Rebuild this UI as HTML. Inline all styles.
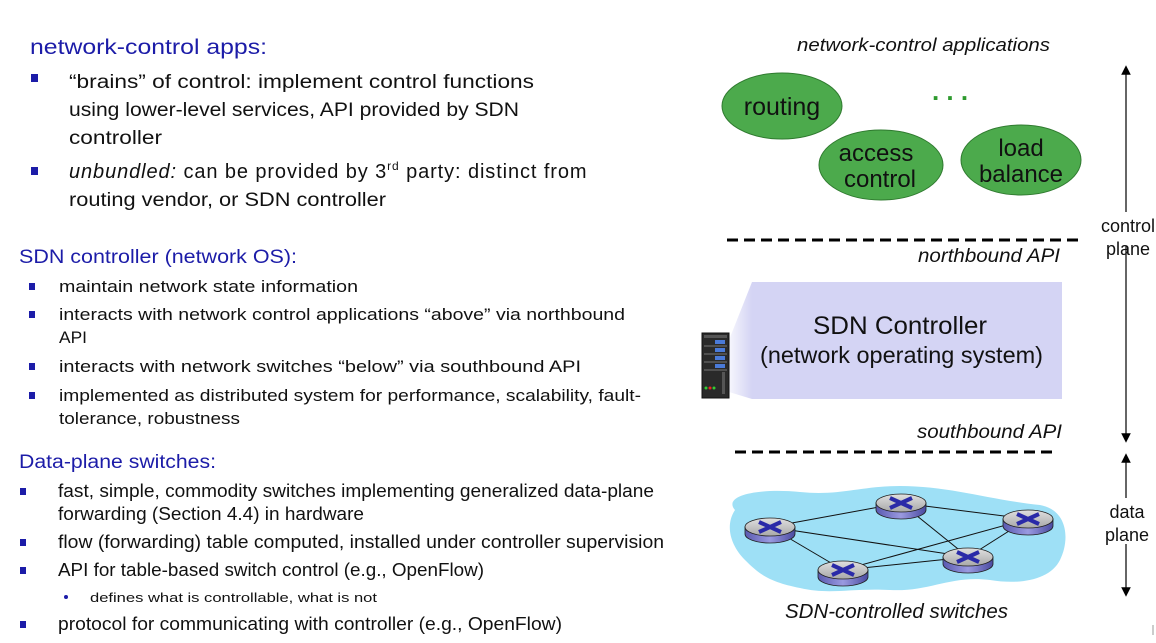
<!DOCTYPE html>
<html><head><meta charset="utf-8"><style>
html,body{margin:0;padding:0;background:#fff;width:1156px;height:643px;overflow:hidden}
svg{display:block}
text{font-family:"Liberation Sans",sans-serif}
.h{fill:#1c1ca8}
.t{fill:#111}
</style></head><body>
<svg width="1156" height="643" viewBox="0 0 1156 643" xmlns="http://www.w3.org/2000/svg">
<defs>
<linearGradient id="fade" x1="0" x2="1" y1="0" y2="0">
<stop offset="0" stop-color="#d4d4f4" stop-opacity="0.2"/>
<stop offset="1" stop-color="#d4d4f4" stop-opacity="1"/>
</linearGradient>
<linearGradient id="rtop" x1="0" x2="0" y1="0" y2="1"><stop offset="0" stop-color="#e0e0e0"/><stop offset="1" stop-color="#a8a8a8"/></linearGradient>
<linearGradient id="rside" x1="0" x2="1" y1="0" y2="0"><stop offset="0" stop-color="#5a5ab0"/><stop offset="0.5" stop-color="#9a9ae0"/><stop offset="1" stop-color="#4a4aa0"/></linearGradient>
<marker id="ah" markerWidth="8" markerHeight="8" refX="4" refY="4" orient="auto"><path d="M0,0 L8,4 L0,8 z" fill="#000"/></marker>
<symbol id="router" viewBox="-27 -12 54 26" overflow="visible">
<path d="M-25,0 v7 a25,9 0 0 0 50,0 v-7 z" fill="url(#rside)" stroke="#222" stroke-width="0.8"/>
<ellipse cx="0" cy="0" rx="25" ry="9" fill="url(#rtop)" stroke="#222" stroke-width="0.8"/>
<path d="M-11,-5 L11,5 M-11,5 L11,-5" stroke="#2a2aa8" stroke-width="4"/>
</symbol>
</defs>

<!-- LEFT TEXT -->
<text class="h" x="30" y="54" font-size="21" textLength="237" lengthAdjust="spacingAndGlyphs">network-control apps:</text>
<rect x="31" y="74" width="7" height="8" fill="#1c1ca8"/>
<text class="t" x="69" y="88" font-size="19" textLength="465" lengthAdjust="spacingAndGlyphs">“brains” of control:  implement control functions</text>
<text class="t" x="69" y="116" font-size="19" textLength="450" lengthAdjust="spacingAndGlyphs">using lower-level services, API provided by SDN</text>
<text class="t" x="69" y="144" font-size="19" textLength="93" lengthAdjust="spacingAndGlyphs">controller</text>
<rect x="31" y="167" width="7" height="8" fill="#1c1ca8"/>
<text class="t" x="69" y="178" font-size="20" letter-spacing="0.9"><tspan font-style="italic">unbundled:</tspan> can be provided by 3<tspan font-size="12" dy="-8">rd</tspan><tspan dy="8"> party: distinct from</tspan></text>
<text class="t" x="69" y="206" font-size="19" textLength="317" lengthAdjust="spacingAndGlyphs">routing vendor, or SDN controller</text>

<text class="h" x="19" y="263" font-size="19" textLength="278" lengthAdjust="spacingAndGlyphs">SDN controller (network OS):</text>
<rect x="29" y="283" width="6" height="7" fill="#1c1ca8"/>
<text class="t" x="59" y="292" font-size="17" textLength="299" lengthAdjust="spacingAndGlyphs">maintain network state information</text>
<rect x="29" y="311" width="6" height="7" fill="#1c1ca8"/>
<text class="t" x="59" y="320" font-size="17" textLength="566" lengthAdjust="spacingAndGlyphs">interacts with network control applications “above” via northbound</text>
<text class="t" x="59" y="343" font-size="17" textLength="28" lengthAdjust="spacingAndGlyphs">API</text>
<rect x="29" y="363" width="6" height="7" fill="#1c1ca8"/>
<text class="t" x="59" y="372" font-size="17" textLength="522" lengthAdjust="spacingAndGlyphs">interacts with network switches “below” via southbound API</text>
<rect x="29" y="392" width="6" height="7" fill="#1c1ca8"/>
<text class="t" x="59" y="401" font-size="17" textLength="582" lengthAdjust="spacingAndGlyphs">implemented as distributed system for performance, scalability, fault-</text>
<text class="t" x="59" y="424" font-size="17" textLength="181" lengthAdjust="spacingAndGlyphs">tolerance, robustness</text>

<text class="h" x="19" y="468" font-size="19" textLength="197" lengthAdjust="spacingAndGlyphs">Data-plane switches:</text>
<rect x="20" y="488" width="6" height="7" fill="#1c1ca8"/>
<text class="t" x="58" y="497" font-size="18" textLength="596" lengthAdjust="spacingAndGlyphs">fast, simple, commodity switches implementing generalized data-plane</text>
<text class="t" x="58" y="520" font-size="18" textLength="306" lengthAdjust="spacingAndGlyphs">forwarding (Section 4.4) in hardware</text>
<rect x="20" y="539" width="6" height="7" fill="#1c1ca8"/>
<text class="t" x="58" y="548" font-size="18" textLength="606" lengthAdjust="spacingAndGlyphs">flow (forwarding) table computed, installed under controller supervision</text>
<rect x="20" y="567" width="6" height="7" fill="#1c1ca8"/>
<text class="t" x="58" y="576" font-size="18" textLength="426" lengthAdjust="spacingAndGlyphs">API for table-based switch control (e.g., OpenFlow)</text>
<circle cx="66" cy="597" r="2" fill="#1c1ca8"/>
<text class="t" x="90" y="602" font-size="13" textLength="287" lengthAdjust="spacingAndGlyphs">defines what is controllable, what is not</text>
<rect x="20" y="621" width="6" height="7" fill="#1c1ca8"/>
<text class="t" x="58" y="630" font-size="18" textLength="504" lengthAdjust="spacingAndGlyphs">protocol for communicating with controller (e.g., OpenFlow)</text>

<!-- RIGHT DIAGRAM -->
<text x="797" y="51" font-size="18" font-style="italic" textLength="253" lengthAdjust="spacingAndGlyphs" fill="#111">network-control applications</text>
<ellipse cx="782" cy="106" rx="60" ry="33" fill="#4caa4c" stroke="#2f7a2f" stroke-width="1"/>
<text x="782" y="115" font-size="25" text-anchor="middle" fill="#111">routing</text>
<ellipse cx="881" cy="165" rx="62" ry="35" fill="#4caa4c" stroke="#2f7a2f" stroke-width="1"/>
<text x="876" y="161" font-size="24" text-anchor="middle" fill="#111">access</text>
<text x="880" y="187" font-size="24" text-anchor="middle" fill="#111">control</text>
<ellipse cx="1021" cy="160" rx="60" ry="35" fill="#4caa4c" stroke="#2f7a2f" stroke-width="1"/>
<text x="1021" y="156" font-size="24" text-anchor="middle" fill="#111">load</text>
<text x="1021" y="182" font-size="24" text-anchor="middle" fill="#111">balance</text>
<text x="950" y="100" font-size="26" font-weight="bold" text-anchor="middle" fill="#2e9a2e">. . .</text>

<line x1="727" y1="240" x2="1080" y2="240" stroke="#000" stroke-width="3" stroke-dasharray="11,6"/>
<text x="918" y="262" font-size="19" font-style="italic" textLength="142" lengthAdjust="spacingAndGlyphs" fill="#111">northbound API</text>

<polygon points="729,340 752,282 752,399 729,392" fill="url(#fade)"/>
<rect x="752" y="282" width="310" height="117" fill="#d4d4f4"/>
<text x="813" y="334" font-size="25" textLength="174" lengthAdjust="spacingAndGlyphs" fill="#111">SDN Controller</text>
<text x="760" y="363" font-size="23" textLength="283" lengthAdjust="spacingAndGlyphs" fill="#111">(network operating system)</text>

<!-- server -->
<rect x="702" y="333" width="27" height="65" fill="#2a2a2a" stroke="#111"/>
<rect x="704" y="335" width="23" height="3" fill="#555"/>
<g fill="#4a7ad8">
<rect x="715" y="340" width="10" height="4"/><rect x="715" y="348" width="10" height="4"/><rect x="715" y="356" width="10" height="4"/><rect x="715" y="364" width="10" height="4"/>
</g>
<g stroke="#777" stroke-width="1"><line x1="704" y1="346" x2="727" y2="346"/><line x1="704" y1="354" x2="727" y2="354"/><line x1="704" y1="362" x2="727" y2="362"/><line x1="704" y1="370" x2="727" y2="370"/></g>
<rect x="722" y="372" width="3" height="22" fill="#555"/>
<circle cx="706" cy="388" r="1.5" fill="#3c3"/><circle cx="710" cy="388" r="1.5" fill="#e22"/><circle cx="714" cy="388" r="1.5" fill="#3c3"/>

<text x="917" y="438" font-size="19" font-style="italic" textLength="145" lengthAdjust="spacingAndGlyphs" fill="#111">southbound API</text>
<line x1="735" y1="452" x2="1057" y2="452" stroke="#000" stroke-width="3" stroke-dasharray="11,6"/>

<!-- cloud -->
<path d="M735,510 C722,495 760,488 800,492 C840,496 860,486 900,486 C950,486 990,500 1040,505 C1068,510 1070,540 1060,560 C1050,580 1020,585 990,580 C950,575 930,592 890,590 C850,588 830,595 800,588 C770,582 760,575 745,560 C730,545 725,525 735,510 Z" fill="#9ee0f6"/>
<g stroke="#111" stroke-width="1">
<line x1="770" y1="527" x2="901" y2="503"/>
<line x1="901" y1="503" x2="1028" y2="519"/>
<line x1="770" y1="527" x2="968" y2="557"/>
<line x1="770" y1="527" x2="843" y2="570"/>
<line x1="901" y1="503" x2="968" y2="557"/>
<line x1="843" y1="570" x2="1028" y2="519"/>
<line x1="843" y1="570" x2="968" y2="557"/>
<line x1="968" y1="557" x2="1028" y2="519"/>
</g>
<use href="#router" x="743" y="515" width="54" height="26"/>
<use href="#router" x="874" y="491" width="54" height="26"/>
<use href="#router" x="1001" y="507" width="54" height="26"/>
<use href="#router" x="941" y="545" width="54" height="26"/>
<use href="#router" x="816" y="558" width="54" height="26"/>
<text x="785" y="618" font-size="20" font-style="italic" textLength="223" lengthAdjust="spacingAndGlyphs" fill="#111">SDN-controlled switches</text>

<!-- plane arrows -->
<line x1="1126" y1="212" x2="1126" y2="70" stroke="#000" stroke-width="1.2" marker-end="url(#ah)"/>
<line x1="1126" y1="246" x2="1126" y2="438" stroke="#000" stroke-width="1.2" marker-end="url(#ah)"/>
<text x="1128" y="232" font-size="18" text-anchor="middle" fill="#111">control</text>
<text x="1128" y="255" font-size="18" text-anchor="middle" fill="#111">plane</text>
<line x1="1126" y1="498" x2="1126" y2="458" stroke="#000" stroke-width="1.2" marker-end="url(#ah)"/>
<line x1="1126" y1="544" x2="1126" y2="592" stroke="#000" stroke-width="1.2" marker-end="url(#ah)"/>
<text x="1127" y="518" font-size="18" text-anchor="middle" fill="#111">data</text>
<text x="1127" y="541" font-size="18" text-anchor="middle" fill="#111">plane</text>
<line x1="1153" y1="625" x2="1153" y2="635" stroke="#999" stroke-width="1"/>
</svg>
</body></html>
